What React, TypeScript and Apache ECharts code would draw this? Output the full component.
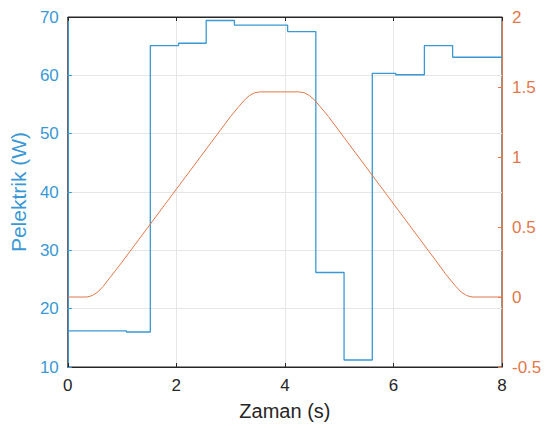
import React, { useEffect, useRef } from "react";
import * as echarts from "echarts";

const powerT = [0, 1.08, 1.52, 2.04, 2.55, 3.07, 4.05, 4.57, 5.09, 5.61, 6.04, 6.57, 7.09, 8];
const powerW = [16.2, 16.0, 65.1, 65.5, 69.4, 68.6, 67.5, 26.2, 11.2, 60.35, 60.1, 65.1, 63.1, 63.1];

const posT = [0, 0.35, 0.45, 0.55, 0.65, 0.8, 1.0, 2.0, 3.0, 3.15, 3.25, 3.35, 3.45, 3.55, 4.25, 4.35, 4.45, 4.55, 4.65, 4.8, 5.8, 6.8, 6.95, 7.15, 7.25, 7.35, 7.45, 8];
const posV = [0, 0, 0.01, 0.035, 0.075, 0.15, 0.25, 0.77, 1.29, 1.36, 1.405, 1.44, 1.46, 1.465, 1.465, 1.46, 1.44, 1.405, 1.36, 1.29, 0.77, 0.25, 0.17, 0.075, 0.035, 0.01, 0, 0];

const xTicks = [0, 2, 4, 6, 8];
const leftMax = 70;

const BLUE = "#3A98D4";
const ORANGE = "#E2784A";
const DARK = "#262626";
const FONT = "Liberation Sans";

export default function App() {
  const ref = useRef<HTMLDivElement>(null);
  useEffect(() => {
    const chart = echarts.init(ref.current!, null, { renderer: "svg" });
    chart.setOption({
      animation: false,
      backgroundColor: "#ffffff",
      grid: {
        left: 66, right: 43, top: 17, bottom: 61, containLabel: false,
        show: true, borderColor: DARK, borderWidth: 1, backgroundColor: "transparent",
      },
      xAxis: [
        {
          type: "value",
          min: xTicks[0],
          max: xTicks[xTicks.length - 1],
          interval: 2,
          position: "bottom",
          name: "Zaman (s)",
          nameLocation: "middle",
          nameGap: 34,
          nameTextStyle: { fontFamily: FONT, fontSize: 20, color: DARK },
          axisLine: { onZero: false, lineStyle: { color: DARK, width: 1 } },
          axisTick: { inside: true, length: 4, lineStyle: { color: DARK } },
          axisLabel: { fontFamily: FONT, fontSize: 17, color: DARK, margin: 10 },
          splitLine: { show: true, showMinLine: false, showMaxLine: false, lineStyle: { color: "#e6e6e6", width: 1 } },
        },
        {
          type: "value",
          gridIndex: 0,
          min: 0,
          max: 8,
          interval: 2,
          position: "top",
          show: true,
          axisLine: { show: true, onZero: false, lineStyle: { color: DARK, width: 1 } },
          axisTick: { show: true, inside: true, length: 4, lineStyle: { color: DARK } },
          axisLabel: { show: false },
          splitLine: { show: false },
        },
      ],
      yAxis: [
        {
          type: "value",
          min: 10,
          max: leftMax,
          interval: 10,
          position: "left",
          name: "Pelektrik (W)",
          nameLocation: "middle",
          nameGap: 37,
          nameRotate: 90,
          nameTextStyle: { fontFamily: FONT, fontSize: 21, color: BLUE },
          axisLine: { show: true, onZero: false, lineStyle: { color: BLUE, width: 1 } },
          axisTick: { show: true, inside: true, length: 4, lineStyle: { color: BLUE } },
          axisLabel: { fontFamily: FONT, fontSize: 17, color: BLUE, margin: 9 },
          splitLine: { show: true, showMinLine: false, showMaxLine: false, lineStyle: { color: "#e6e6e6", width: 1 } },
        },
        {
          type: "value",
          min: -0.5,
          max: 2,
          interval: 0.5,
          position: "right",
          axisLine: { show: true, onZero: false, lineStyle: { color: ORANGE, width: 1 } },
          axisTick: { show: true, inside: true, length: 4, lineStyle: { color: ORANGE } },
          axisLabel: { fontFamily: FONT, fontSize: 17, color: ORANGE, margin: 10 },
          splitLine: { show: false },
        },
      ],
      series: [
        {
          type: "line",
          xAxisIndex: 0,
          yAxisIndex: 0,
          step: "end",
          showSymbol: false,
          data: powerT.map((t, i) => [t, powerW[i]]),
          lineStyle: { color: BLUE, width: 1.3 },
          itemStyle: { color: BLUE },
          markLine: {
            silent: true,
            symbol: "none",
            label: { show: false },
            lineStyle: { color: DARK, width: 1, type: "solid" },
            data: [{ yAxis: leftMax }],
          },
        },
        {
          type: "line",
          xAxisIndex: 0,
          yAxisIndex: 1,
          showSymbol: false,
          data: posT.map((t, i) => [t, posV[i]]),
          lineStyle: { color: ORANGE, width: 1 },
          itemStyle: { color: ORANGE },
        },
      ],
    });
    return () => chart.dispose();
  }, []);
  return (
    <div
      ref={ref}
      style={{ position: "fixed", left: 0, top: 0, width: 545, height: 428 }}
    />
  );
}
